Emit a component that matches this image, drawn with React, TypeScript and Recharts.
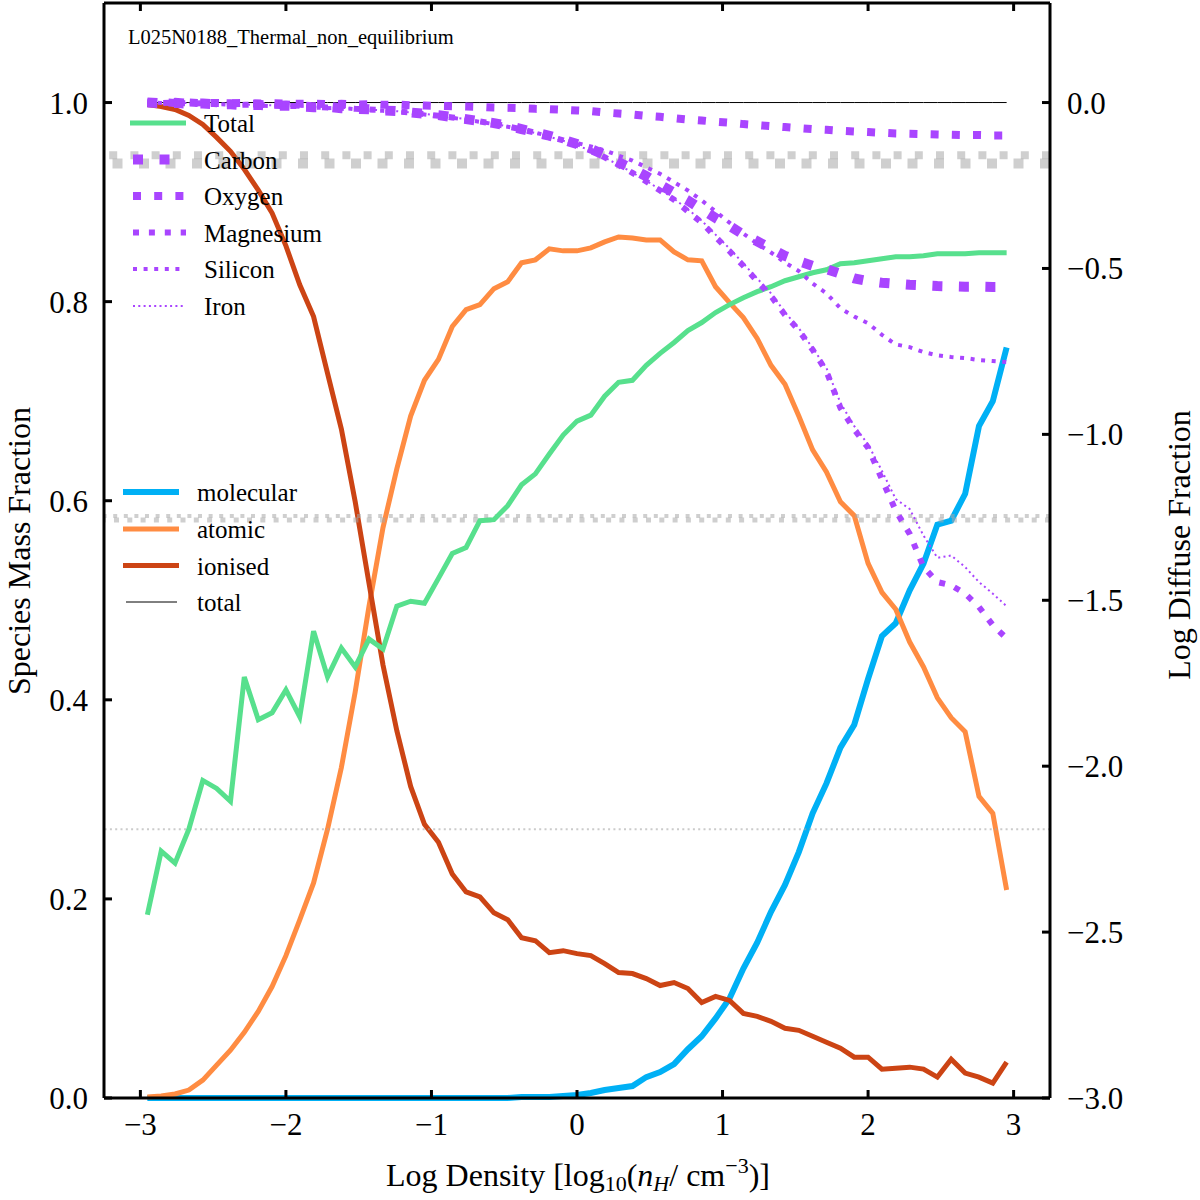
import React from 'react';
import { ComposedChart, Line, XAxis, YAxis, ReferenceLine } from 'recharts';

// ---------- data ----------
const logDensity = [
  -2.952, -2.857, -2.762, -2.667, -2.571, -2.476, -2.381, -2.286, -2.190, -2.095,
  -2.000, -1.905, -1.810, -1.714, -1.619, -1.524, -1.429, -1.333, -1.238, -1.143,
  -1.048, -0.952, -0.857, -0.762, -0.667, -0.571, -0.476, -0.381, -0.286, -0.190,
  -0.095, 0.000, 0.095, 0.190, 0.286, 0.381, 0.476, 0.571, 0.667, 0.762,
  0.857, 0.952, 1.048, 1.143, 1.238, 1.333, 1.429, 1.524, 1.619, 1.714,
  1.810, 1.905, 2.000, 2.095, 2.190, 2.286, 2.381, 2.476, 2.571, 2.667,
  2.762, 2.857, 2.952,
];

const molecular = [
  0, 0, 0, 0, 0, 0, 0, 0, 0, 0,
  0, 0, 0, 0, 0, 0, 0, 0, 0, 0,
  0, 0, 0, 0, 0, 0, 0, 0.001, 0.001, 0.001,
  0.002, 0.003, 0.005, 0.008, 0.010, 0.012, 0.021, 0.026, 0.034, 0.049,
  0.062, 0.080, 0.100, 0.130, 0.156, 0.187, 0.214, 0.247, 0.286, 0.316,
  0.352, 0.375, 0.421, 0.464, 0.477, 0.510, 0.537, 0.576, 0.580, 0.607,
  0.675, 0.700, 0.754,
];

const atomic = [
  0.001, 0.002, 0.004, 0.008, 0.018, 0.033, 0.048, 0.066, 0.087, 0.112,
  0.143, 0.179, 0.216, 0.270, 0.332, 0.408, 0.494, 0.573, 0.632, 0.685,
  0.721, 0.742, 0.775, 0.792, 0.797, 0.813, 0.820, 0.839, 0.842, 0.853,
  0.851, 0.851, 0.854, 0.860, 0.865, 0.864, 0.862, 0.862, 0.850, 0.842,
  0.841, 0.815, 0.799, 0.784, 0.763, 0.736, 0.717, 0.685, 0.651, 0.629,
  0.599, 0.585, 0.537, 0.508, 0.491, 0.458, 0.433, 0.402, 0.382, 0.368,
  0.303, 0.286, 0.209,
];

const ionised = [
  0.998, 0.996, 0.993, 0.987, 0.978, 0.965, 0.951, 0.933, 0.912, 0.889,
  0.856, 0.817, 0.785, 0.728, 0.672, 0.599, 0.517, 0.435, 0.369, 0.313,
  0.275, 0.257, 0.225, 0.207, 0.202, 0.186, 0.179, 0.161, 0.158, 0.146,
  0.148, 0.145, 0.143, 0.135, 0.126, 0.125, 0.120, 0.113, 0.116, 0.110,
  0.096, 0.102, 0.098, 0.085, 0.082, 0.077, 0.070, 0.068, 0.062, 0.056,
  0.050, 0.041, 0.041, 0.029, 0.030, 0.031, 0.029, 0.021, 0.039, 0.025,
  0.021, 0.015, 0.036,
];

const totalSpecies = [
  1, 1, 1, 1, 1, 1, 1, 1, 1, 1,
  1, 1, 1, 1, 1, 1, 1, 1, 1, 1,
  1, 1, 1, 1, 1, 1, 1, 1, 1, 1,
  1, 1, 1, 1, 1, 1, 1, 1, 1, 1,
  1, 1, 1, 1, 1, 1, 1, 1, 1, 1,
  1, 1, 1, 1, 1, 1, 1, 1, 1, 1,
  1, 1, 1,
];

const totalDiffuse = [
  0.184, 0.248, 0.236, 0.270, 0.319, 0.311, 0.298, 0.423, 0.380, 0.387,
  0.410, 0.383, 0.469, 0.423, 0.452, 0.433, 0.461, 0.451, 0.494, 0.499,
  0.497, 0.522, 0.547, 0.553, 0.580, 0.581, 0.595, 0.616, 0.627, 0.647,
  0.666, 0.680, 0.686, 0.705, 0.719, 0.721, 0.736, 0.748, 0.759, 0.771,
  0.779, 0.789, 0.797, 0.804, 0.810, 0.815, 0.821, 0.825, 0.829, 0.832,
  0.838, 0.839, 0.841, 0.843, 0.845, 0.845, 0.846, 0.848, 0.848, 0.848,
  0.849, 0.849, 0.849,
];

const carbon = [
  0.000, -0.002, -0.001, -0.004, -0.003, -0.006, -0.005, -0.008, -0.007, -0.010,
  -0.009, -0.012, -0.014, -0.013, -0.017, -0.019, -0.020, -0.024, -0.026, -0.030,
  -0.034, -0.038, -0.044, -0.050, -0.056, -0.062, -0.070, -0.080, -0.090, -0.100,
  -0.112, -0.125, -0.140, -0.158, -0.180, -0.200, -0.222, -0.248, -0.272, -0.295,
  -0.322, -0.348, -0.372, -0.398, -0.418, -0.440, -0.462, -0.478, -0.492, -0.502,
  -0.516, -0.530, -0.538, -0.543, -0.546, -0.549, -0.551, -0.553, -0.554, -0.555,
  -0.555, -0.556, -0.556,
];

const oxygen = [
  0.000, 0.001, -0.001, 0.000, -0.002, -0.001, -0.002, -0.001, -0.003, -0.002,
  -0.003, -0.004, -0.003, -0.005, -0.004, -0.006, -0.005, -0.007, -0.006, -0.008,
  -0.009, -0.010, -0.011, -0.012, -0.013, -0.015, -0.016, -0.017, -0.019, -0.020,
  -0.022, -0.024, -0.026, -0.030, -0.033, -0.036, -0.040, -0.043, -0.047, -0.051,
  -0.054, -0.058, -0.061, -0.065, -0.068, -0.071, -0.074, -0.077, -0.080, -0.082,
  -0.085, -0.087, -0.089, -0.091, -0.093, -0.094, -0.095, -0.096, -0.097, -0.098,
  -0.098, -0.099, -0.099,
];

const magnesium = [
  0.000, -0.002, 0.000, -0.003, -0.002, -0.005, -0.004, -0.007, -0.006, -0.009,
  -0.011, -0.010, -0.013, -0.015, -0.016, -0.019, -0.021, -0.023, -0.027, -0.030,
  -0.035, -0.040, -0.045, -0.051, -0.057, -0.064, -0.072, -0.081, -0.091, -0.102,
  -0.114, -0.128, -0.145, -0.165, -0.188, -0.212, -0.238, -0.265, -0.293, -0.328,
  -0.362, -0.405, -0.448, -0.492, -0.538, -0.583, -0.640, -0.686, -0.745, -0.810,
  -0.920, -0.985, -1.040, -1.135, -1.230, -1.300, -1.400, -1.445, -1.455, -1.480,
  -1.520, -1.575, -1.615,
];

const silicon = [
  0.000, -0.001, -0.003, -0.002, -0.005, -0.004, -0.007, -0.006, -0.009, -0.011,
  -0.010, -0.013, -0.015, -0.017, -0.016, -0.020, -0.022, -0.025, -0.028, -0.031,
  -0.036, -0.041, -0.046, -0.052, -0.058, -0.065, -0.073, -0.082, -0.091, -0.101,
  -0.112, -0.122, -0.132, -0.144, -0.160, -0.175, -0.195, -0.215, -0.240, -0.265,
  -0.295, -0.328, -0.362, -0.395, -0.425, -0.452, -0.482, -0.508, -0.545, -0.575,
  -0.620, -0.645, -0.665, -0.700, -0.729, -0.737, -0.752, -0.762, -0.767, -0.770,
  -0.776, -0.779, -0.782,
];

const iron = [
  0.000, -0.001, -0.002, -0.001, -0.003, -0.004, -0.003, -0.006, -0.007, -0.008,
  -0.010, -0.012, -0.011, -0.014, -0.016, -0.018, -0.021, -0.024, -0.026, -0.030,
  -0.034, -0.039, -0.045, -0.050, -0.057, -0.064, -0.072, -0.081, -0.092, -0.103,
  -0.115, -0.128, -0.146, -0.166, -0.188, -0.211, -0.236, -0.262, -0.290, -0.322,
  -0.356, -0.398, -0.440, -0.485, -0.530, -0.575, -0.632, -0.680, -0.740, -0.800,
  -0.905, -0.975, -1.030, -1.110, -1.195, -1.225, -1.305, -1.372, -1.365, -1.400,
  -1.445, -1.480, -1.518,
];

// grey horizontal levels (right axis, log diffuse fraction)
const greyOxygen = -0.159;
const greyCarbon = -0.184;
const greySilicon = -1.246;
const greyMagnesium = -1.258;
const greyIron = -2.19;

const xTicks = [-3, -2, -1, 0, 1, 2, 3];
const leftTicks = [0, 0.2, 0.4, 0.6, 0.8, 1.0];
const rightTicks = [-3, -2.5, -2, -1.5, -1, -0.5, 0];

const rows = logDensity.map((x, i) => ({
  x,
  molecular: molecular[i],
  atomic: atomic[i],
  ionised: ionised[i],
  total: totalSpecies[i],
  totalDiffuse: totalDiffuse[i],
  carbon: carbon[i],
  oxygen: oxygen[i],
  magnesium: magnesium[i],
  silicon: silicon[i],
  iron: iron[i],
}));

// ---------- styles ----------
const FONT = '"Liberation Serif", "Times New Roman", serif';
const C_GREEN = '#57e08d';
const C_ORANGE = '#ff8c42';
const C_RED = '#cc4414';
const C_BLUE = '#00b0f5';
const C_PURPLE = '#a945ff';
const C_GREY = '#a8a8a8';

const minus = (s: string) => s.replace('-', '\u2212');
const fmtX = (v: number) => minus(String(v));
const fmtLeft = (v: number) => v.toFixed(1);
const fmtRight = (v: number) => minus(v.toFixed(1));

const axisLine = { stroke: '#000', strokeWidth: 3 };
const tickLine = { stroke: '#000', strokeWidth: 3 };
const tickStyle = { fill: '#000', fontSize: 31, fontFamily: FONT };

const purpleStyles = [
  { key: 'carbon', name: 'Carbon', w: 10, dash: '10 16.5' },
  { key: 'oxygen', name: 'Oxygen', w: 8, dash: '8 13.2' },
  { key: 'magnesium', name: 'Magnesium', w: 6, dash: '6 9.9' },
  { key: 'silicon', name: 'Silicon', w: 4, dash: '4 6.6' },
  { key: 'iron', name: 'Iron', w: 2, dash: '2 3.3' },
];

const EmptyTick = () => <g />;

export default function App() {
  const legend1 = [
    { name: 'Total', y: 123, el: <line x1={130} x2={186} stroke={C_GREEN} strokeWidth={5} /> },
    ...purpleStyles.map((p, i) => ({
      name: p.name,
      y: [159.5, 196, 232.5, 269, 306][i],
      el: <line x1={133} x2={186} stroke={C_PURPLE} strokeWidth={p.w} strokeDasharray={p.dash} />,
    })),
  ];
  const legend2 = [
    { name: 'molecular', y: 492, el: <line x1={123} x2={179} stroke={C_BLUE} strokeWidth={6} /> },
    { name: 'atomic', y: 529, el: <line x1={123} x2={179} stroke={C_ORANGE} strokeWidth={5} /> },
    { name: 'ionised', y: 565.5, el: <line x1={123} x2={179} stroke={C_RED} strokeWidth={5} /> },
    { name: 'total', y: 602, el: <line x1={126} x2={177} stroke="#000" strokeWidth={1} /> },
  ];

  return (
    <div style={{ position: 'absolute', left: 0, top: 0, width: 1200, height: 1200, background: '#fff' }}>
      <ComposedChart width={1200} height={1200} data={rows} margin={{ top: 2, right: 0, bottom: 0, left: 0 }}>
        <XAxis
          xAxisId="bottom"
          dataKey="x"
          type="number"
          orientation="bottom"
          domain={[-3.25, 3.25]}
          ticks={xTicks}
          tickFormatter={fmtX}
          height={102}
          tickSize={-8}
          tickMargin={23}
          axisLine={axisLine}
          tickLine={tickLine}
          tick={tickStyle}
        />
        <XAxis
          xAxisId="top"
          dataKey="x"
          type="number"
          orientation="top"
          domain={[-3.25, 3.25]}
          ticks={xTicks}
          height={1}
          tickSize={-8}
          axisLine={axisLine}
          tickLine={tickLine}
          tick={EmptyTick}
        />
        <YAxis
          yAxisId="left"
          orientation="left"
          type="number"
          domain={[0, 1.1]}
          ticks={leftTicks}
          tickFormatter={fmtLeft}
          width={104}
          tickSize={-8}
          tickMargin={24}
          axisLine={axisLine}
          tickLine={tickLine}
          tick={tickStyle}
        />
        <YAxis
          yAxisId="right"
          orientation="right"
          type="number"
          domain={[-3, 0.3]}
          ticks={rightTicks}
          tickFormatter={fmtRight}
          width={150}
          tickSize={-8}
          tickMargin={25}
          axisLine={axisLine}
          tickLine={tickLine}
          tick={tickStyle}
        />

        <Line xAxisId="bottom" yAxisId="left" dataKey="molecular" type="linear" stroke={C_BLUE} strokeWidth={6} dot={false} activeDot={false} isAnimationActive={false} />
        <Line xAxisId="bottom" yAxisId="left" dataKey="atomic" type="linear" stroke={C_ORANGE} strokeWidth={5} dot={false} activeDot={false} isAnimationActive={false} />
        <Line xAxisId="bottom" yAxisId="left" dataKey="ionised" type="linear" stroke={C_RED} strokeWidth={5} dot={false} activeDot={false} isAnimationActive={false} />
        <Line xAxisId="bottom" yAxisId="left" dataKey="total" type="linear" stroke="#000" strokeWidth={1} dot={false} activeDot={false} isAnimationActive={false} />

        <ReferenceLine xAxisId="bottom" yAxisId="right" y={greyOxygen} stroke={C_GREY} strokeOpacity={0.55} strokeWidth={8} strokeDasharray="8 13.2" />
        <ReferenceLine xAxisId="bottom" yAxisId="right" y={greyCarbon} stroke={C_GREY} strokeOpacity={0.55} strokeWidth={10} strokeDasharray="10 16.5" />
        <ReferenceLine xAxisId="bottom" yAxisId="right" y={greySilicon} stroke={C_GREY} strokeOpacity={0.55} strokeWidth={4} strokeDasharray="4 6.6" />
        <ReferenceLine xAxisId="bottom" yAxisId="right" y={greyMagnesium} stroke={C_GREY} strokeOpacity={0.55} strokeWidth={5} strokeDasharray="5 8.3" />
        <ReferenceLine xAxisId="bottom" yAxisId="right" y={greyIron} stroke={C_GREY} strokeOpacity={0.6} strokeWidth={2} strokeDasharray="2 3.3" />

        <Line xAxisId="bottom" yAxisId="left" dataKey="totalDiffuse" type="linear" stroke={C_GREEN} strokeWidth={5} dot={false} activeDot={false} isAnimationActive={false} />
        {purpleStyles.map((p) => (
          <Line
            key={p.key}
            xAxisId="bottom"
            yAxisId="right"
            dataKey={p.key}
            type="linear"
            stroke={C_PURPLE}
            strokeWidth={p.w}
            strokeDasharray={p.dash}
            strokeLinecap="butt"
            dot={false}
            activeDot={false}
            isAnimationActive={false}
          />
        ))}
      </ComposedChart>

      <svg
        width={1200}
        height={1200}
        style={{ position: 'absolute', left: 0, top: 0, pointerEvents: 'none' }}
        fontFamily={FONT}
      >
        <text x={128} y={44} fontSize={20.5} fill="#000">L025N0188_Thermal_non_equilibrium</text>

        {legend1.map((r) => (
          <g key={r.name} transform={`translate(0, ${r.y})`}>
            {r.el}
            <text x={204} y={9} fontSize={25} fill="#000">{r.name}</text>
          </g>
        ))}
        {legend2.map((r) => (
          <g key={r.name} transform={`translate(0, ${r.y})`}>
            {r.el}
            <text x={197} y={9} fontSize={25} fill="#000">{r.name}</text>
          </g>
        ))}

        <text x={578} y={1186} fontSize={32} textAnchor="middle" fill="#000">
          Log Density [log
          <tspan fontSize={22} dy={5}>10</tspan>
          <tspan dy={-5}>(</tspan>
          <tspan fontStyle="italic">n</tspan>
          <tspan fontStyle="italic" fontSize={22} dy={5}>H</tspan>
          <tspan dy={-5}>/ cm</tspan>
          <tspan fontSize={22} dy={-13}>{'\u22123'}</tspan>
          <tspan dy={13}>)]</tspan>
        </text>
        <text x={30} y={551} fontSize={32} textAnchor="middle" fill="#000" transform="rotate(-90, 30, 551)">
          Species Mass Fraction
        </text>
        <text x={1190} y={545} fontSize={32} textAnchor="middle" fill="#000" transform="rotate(-90, 1190, 545)">
          Log Diffuse Fraction
        </text>
      </svg>
    </div>
  );
}
